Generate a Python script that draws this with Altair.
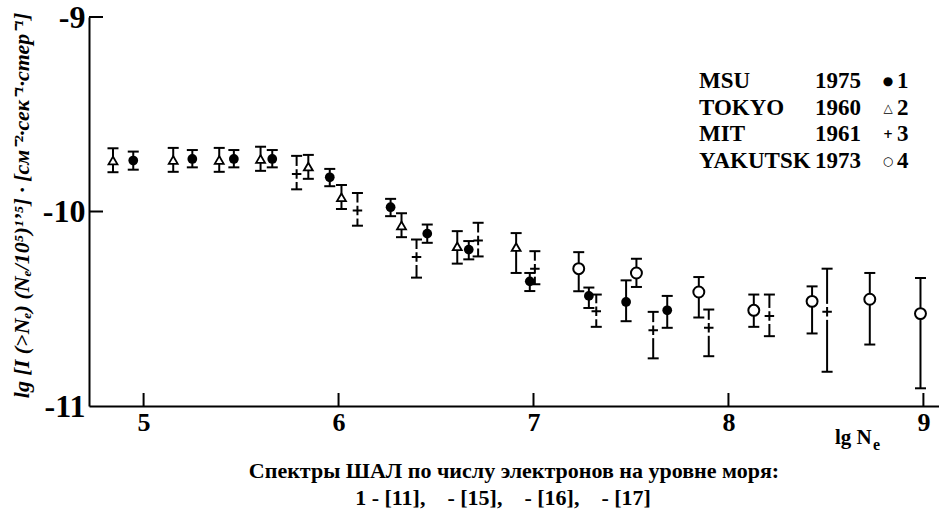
import altair as alt
import pandas as pd

# ---------------- data ----------------
msu_x = [4.947, 5.250, 5.463, 5.660, 5.955, 6.267, 6.455, 6.668, 6.981, 7.284, 7.475, 7.686]
msu_y = [-9.738, -9.730, -9.730, -9.730, -9.824, -9.978, -10.114, -10.196, -10.359, -10.434, -10.465, -10.508]
msu_hi = [-9.692, -9.684, -9.684, -9.684, -9.781, -9.935, -10.067, -10.152, -10.316, -10.391, -10.354, -10.434]
msu_lo = [-9.785, -9.773, -9.773, -9.773, -9.870, -10.024, -10.161, -10.246, -10.409, -10.496, -10.564, -10.598]

tokyo_x = [4.843, 5.152, 5.388, 5.600, 5.845, 6.015, 6.323, 6.609, 6.911]
tokyo_y = [-9.738, -9.735, -9.735, -9.730, -9.769, -9.927, -10.072, -10.179, -10.183]
tokyo_hi = [-9.675, -9.673, -9.673, -9.667, -9.709, -9.864, -10.009, -10.101, -10.111]
tokyo_lo = [-9.798, -9.796, -9.796, -9.791, -9.832, -9.987, -10.132, -10.268, -10.316]

mit_x = [5.785, 6.097, 6.400, 6.716, 7.007, 7.322, 7.614, 7.899, 8.210, 8.506]
mit_y = [-9.807, -9.995, -10.234, -10.149, -10.294, -10.513, -10.610, -10.598, -10.537, -10.516]
mit_hi = [-9.714, -9.905, -10.144, -10.058, -10.204, -10.427, -10.516, -10.504, -10.427, -10.294]
mit_lo = [-9.886, -10.073, -10.340, -10.231, -10.374, -10.593, -10.755, -10.744, -10.641, -10.824]

yak_x = [7.232, 7.528, 7.848, 8.130, 8.429, 8.725, 8.985]
yak_y = [-10.294, -10.316, -10.414, -10.508, -10.462, -10.451, -10.525]
yak_hi = [-10.209, -10.243, -10.337, -10.427, -10.385, -10.316, -10.342]
yak_lo = [-10.410, -10.388, -10.545, -10.593, -10.627, -10.684, -10.909]

x_ticks = [5, 6, 7, 8, 9]
y_ticks = [-11, -10, -9]

legend_names = ["MSU", "TOKYO", "MIT", "YAKUTSK"]
legend_years = ["1975", "1960", "1961", "1973"]
legend_syms = ["\u25cf", "\u25b3", "+", "\u25cb"]
legend_nums = ["1", "2", "3", "4"]

y_title = "lg [I (>N\u2091) (N\u2091/10\u2075)\u00b9\u02bc\u2075] \u00b7 [\u0441\u043c\u207b\u00b2\u00b7\u0441\u0435\u043a\u207b\u00b9\u00b7\u0441\u0442\u0435\u0440\u207b\u00b9]"
caption1 = "Спектры ШАЛ по числу электронов на уровне моря:"
caption2 = "1 - [11],\u00a0\u00a0\u00a0 - [15],\u00a0\u00a0\u00a0 - [16],\u00a0\u00a0\u00a0 - [17]"

# ---------------- layout ----------------
W, H = 850, 389
X_DOM = [4.72, 9.08]
Y_DOM = [-11, -9]
px_x = W / (X_DOM[1] - X_DOM[0])
px_y = H / (Y_DOM[1] - Y_DOM[0])
SERIF = "Liberation Serif"


def frame(name, xs, ys, his, los):
    return pd.DataFrame({"series": name, "x": xs, "y": ys, "hi": his, "lo": los})


df = pd.concat([
    frame("MSU", msu_x, msu_y, msu_hi, msu_lo),
    frame("TOKYO", tokyo_x, tokyo_y, tokyo_hi, tokyo_lo),
    frame("MIT", mit_x, mit_y, mit_hi, mit_lo),
    frame("YAKUTSK", yak_x, yak_y, yak_hi, yak_lo),
], ignore_index=True)

gap = 8 / px_y
mit = df[df.series == "MIT"].copy()
mit["gtop"] = mit["y"] + gap
mit["gbot"] = mit["y"] - gap
solid = df[df.series != "MIT"]

caps = pd.concat([
    df[["series", "x"]].assign(v=df["hi"]),
    df[["series", "x"]].assign(v=df["lo"]),
], ignore_index=True)

xs = alt.Scale(domain=X_DOM, nice=False, zero=False)
ys = alt.Scale(domain=Y_DOM, nice=False, zero=False)

x_axis = alt.Axis(values=x_ticks, tickSize=0, domainWidth=2, domainColor="black",
                  labelFont=SERIF, labelFontWeight="bold", labelFontSize=26,
                  labelColor="black", labelPadding=3, grid=False, title=None,
                  labelExpr="datum.value")
y_axis = alt.Axis(values=y_ticks, tickSize=0, domainWidth=2, domainColor="black",
                  labelFont=SERIF, labelFontWeight="bold", labelFontSize=32,
                  labelColor="black", labelPadding=4, grid=False, title=y_title,
                  titleFont=SERIF, titleFontStyle="italic", titleFontWeight="bold",
                  titleFontSize=22, titleColor="black", titlePadding=9,
                  titleY=188, labelExpr="datum.value")


def X(field):
    return alt.X(f"{field}:Q", scale=xs, axis=x_axis)


def Y(field):
    return alt.Y(f"{field}:Q", scale=ys, axis=y_axis)


err_solid = alt.Chart(solid).mark_rule(color="black", strokeWidth=2).encode(
    x=X("x"), y=Y("hi"), y2="lo")
err_mit_top = alt.Chart(mit).mark_rule(color="black", strokeWidth=2).encode(
    x=X("x"), y=Y("hi"), y2="gtop")
err_mit_bot = alt.Chart(mit).mark_rule(color="black", strokeWidth=2).encode(
    x=X("x"), y=Y("gbot"), y2="lo")
cap_marks = alt.Chart(caps).mark_tick(orient="horizontal", size=11, thickness=2,
                                      color="black", opacity=1).encode(
    x=X("x"), y=Y("v"))

pts_msu = alt.Chart(df[df.series == "MSU"]).mark_point(
    shape="circle", size=95, filled=True, color="black", opacity=1).encode(x=X("x"), y=Y("y"))
pts_tokyo = alt.Chart(df[df.series == "TOKYO"]).mark_point(
    shape="triangle-up", size=80, fill="white", stroke="black", strokeWidth=1.8,
    opacity=1, fillOpacity=1).encode(x=X("x"), y=Y("y"))
pts_mit = alt.Chart(mit).mark_point(
    shape="M-1,0L1,0M0,-1L0,1", size=90, stroke="black", strokeWidth=2,
    opacity=1, fill=None).encode(x=X("x"), y=Y("y"))
pts_yak = alt.Chart(df[df.series == "YAKUTSK"]).mark_point(
    shape="circle", size=120, fill="white", stroke="black", strokeWidth=2,
    opacity=1, fillOpacity=1).encode(x=X("x"), y=Y("y"))

# inward axis ticks
xt = pd.DataFrame({"x": x_ticks, "y0": Y_DOM[0], "y1": Y_DOM[0] + 13 / px_y})
yt = pd.DataFrame({"y": [v for v in y_ticks if v > Y_DOM[0]],
                   "x0": X_DOM[0], "x1": X_DOM[0] + 14 / px_x})
xtick_marks = alt.Chart(xt).mark_rule(color="black", strokeWidth=2).encode(
    x=X("x"), y=Y("y0"), y2="y1")
ytick_marks = alt.Chart(yt).mark_rule(color="black", strokeWidth=2).encode(
    y=Y("y"), x=X("x0"), x2="x1")

one = pd.DataFrame({"k": [0]})


def txt(text, x, y, size, align="left", baseline="alphabetic", font=SERIF,
        weight="bold", line_height=None):
    kw = dict(font=font, fontWeight=weight, fontSize=size, align=align,
              baseline=baseline, color="black")
    if line_height is not None:
        kw["lineHeight"] = line_height
    return alt.Chart(one).mark_text(**kw).encode(
        x=alt.value(x), y=alt.value(y), text=alt.value(text))


LX0 = -89   # view origin offset
LY0 = -17
lh = 26.5
leg_names = txt(legend_names, 699 + LX0, 88 + LY0, 23, line_height=lh)
leg_years = txt(legend_years, 861 + LX0, 88 + LY0, 23, align="right", line_height=lh)
leg_syms = txt(legend_syms, 888 + LX0, 85 + LY0, 12, align="center",
               font="DejaVu Sans", weight="bold", line_height=lh)
leg_nums = txt(legend_nums, 897 + LX0, 88 + LY0, 23, line_height=lh)

lg_n = txt("lg N", 835 + LX0, 444 + LY0, 21)
lg_e = txt("e", 873 + LX0, 450 + LY0, 16)
cap1 = txt(caption1, 514 + LX0, 478 + LY0, 22, align="center")
cap2 = txt(caption2, 503 + LX0, 505 + LY0, 22, align="center")

chart = alt.layer(
    err_solid, err_mit_top, err_mit_bot, cap_marks,
    pts_msu, pts_tokyo, pts_mit, pts_yak,
    xtick_marks, ytick_marks,
    leg_names, leg_years, leg_syms, leg_nums,
    lg_n, lg_e, cap1, cap2,
).properties(
    width=W, height=H,
    autosize=alt.AutoSizeParams(type="none"),
    padding={"left": 89, "top": 17, "right": 0, "bottom": 105},
    background="white",
).configure_view(stroke=None)

chart.save("out.html", embed_options={"renderer": "svg", "actions": False})
